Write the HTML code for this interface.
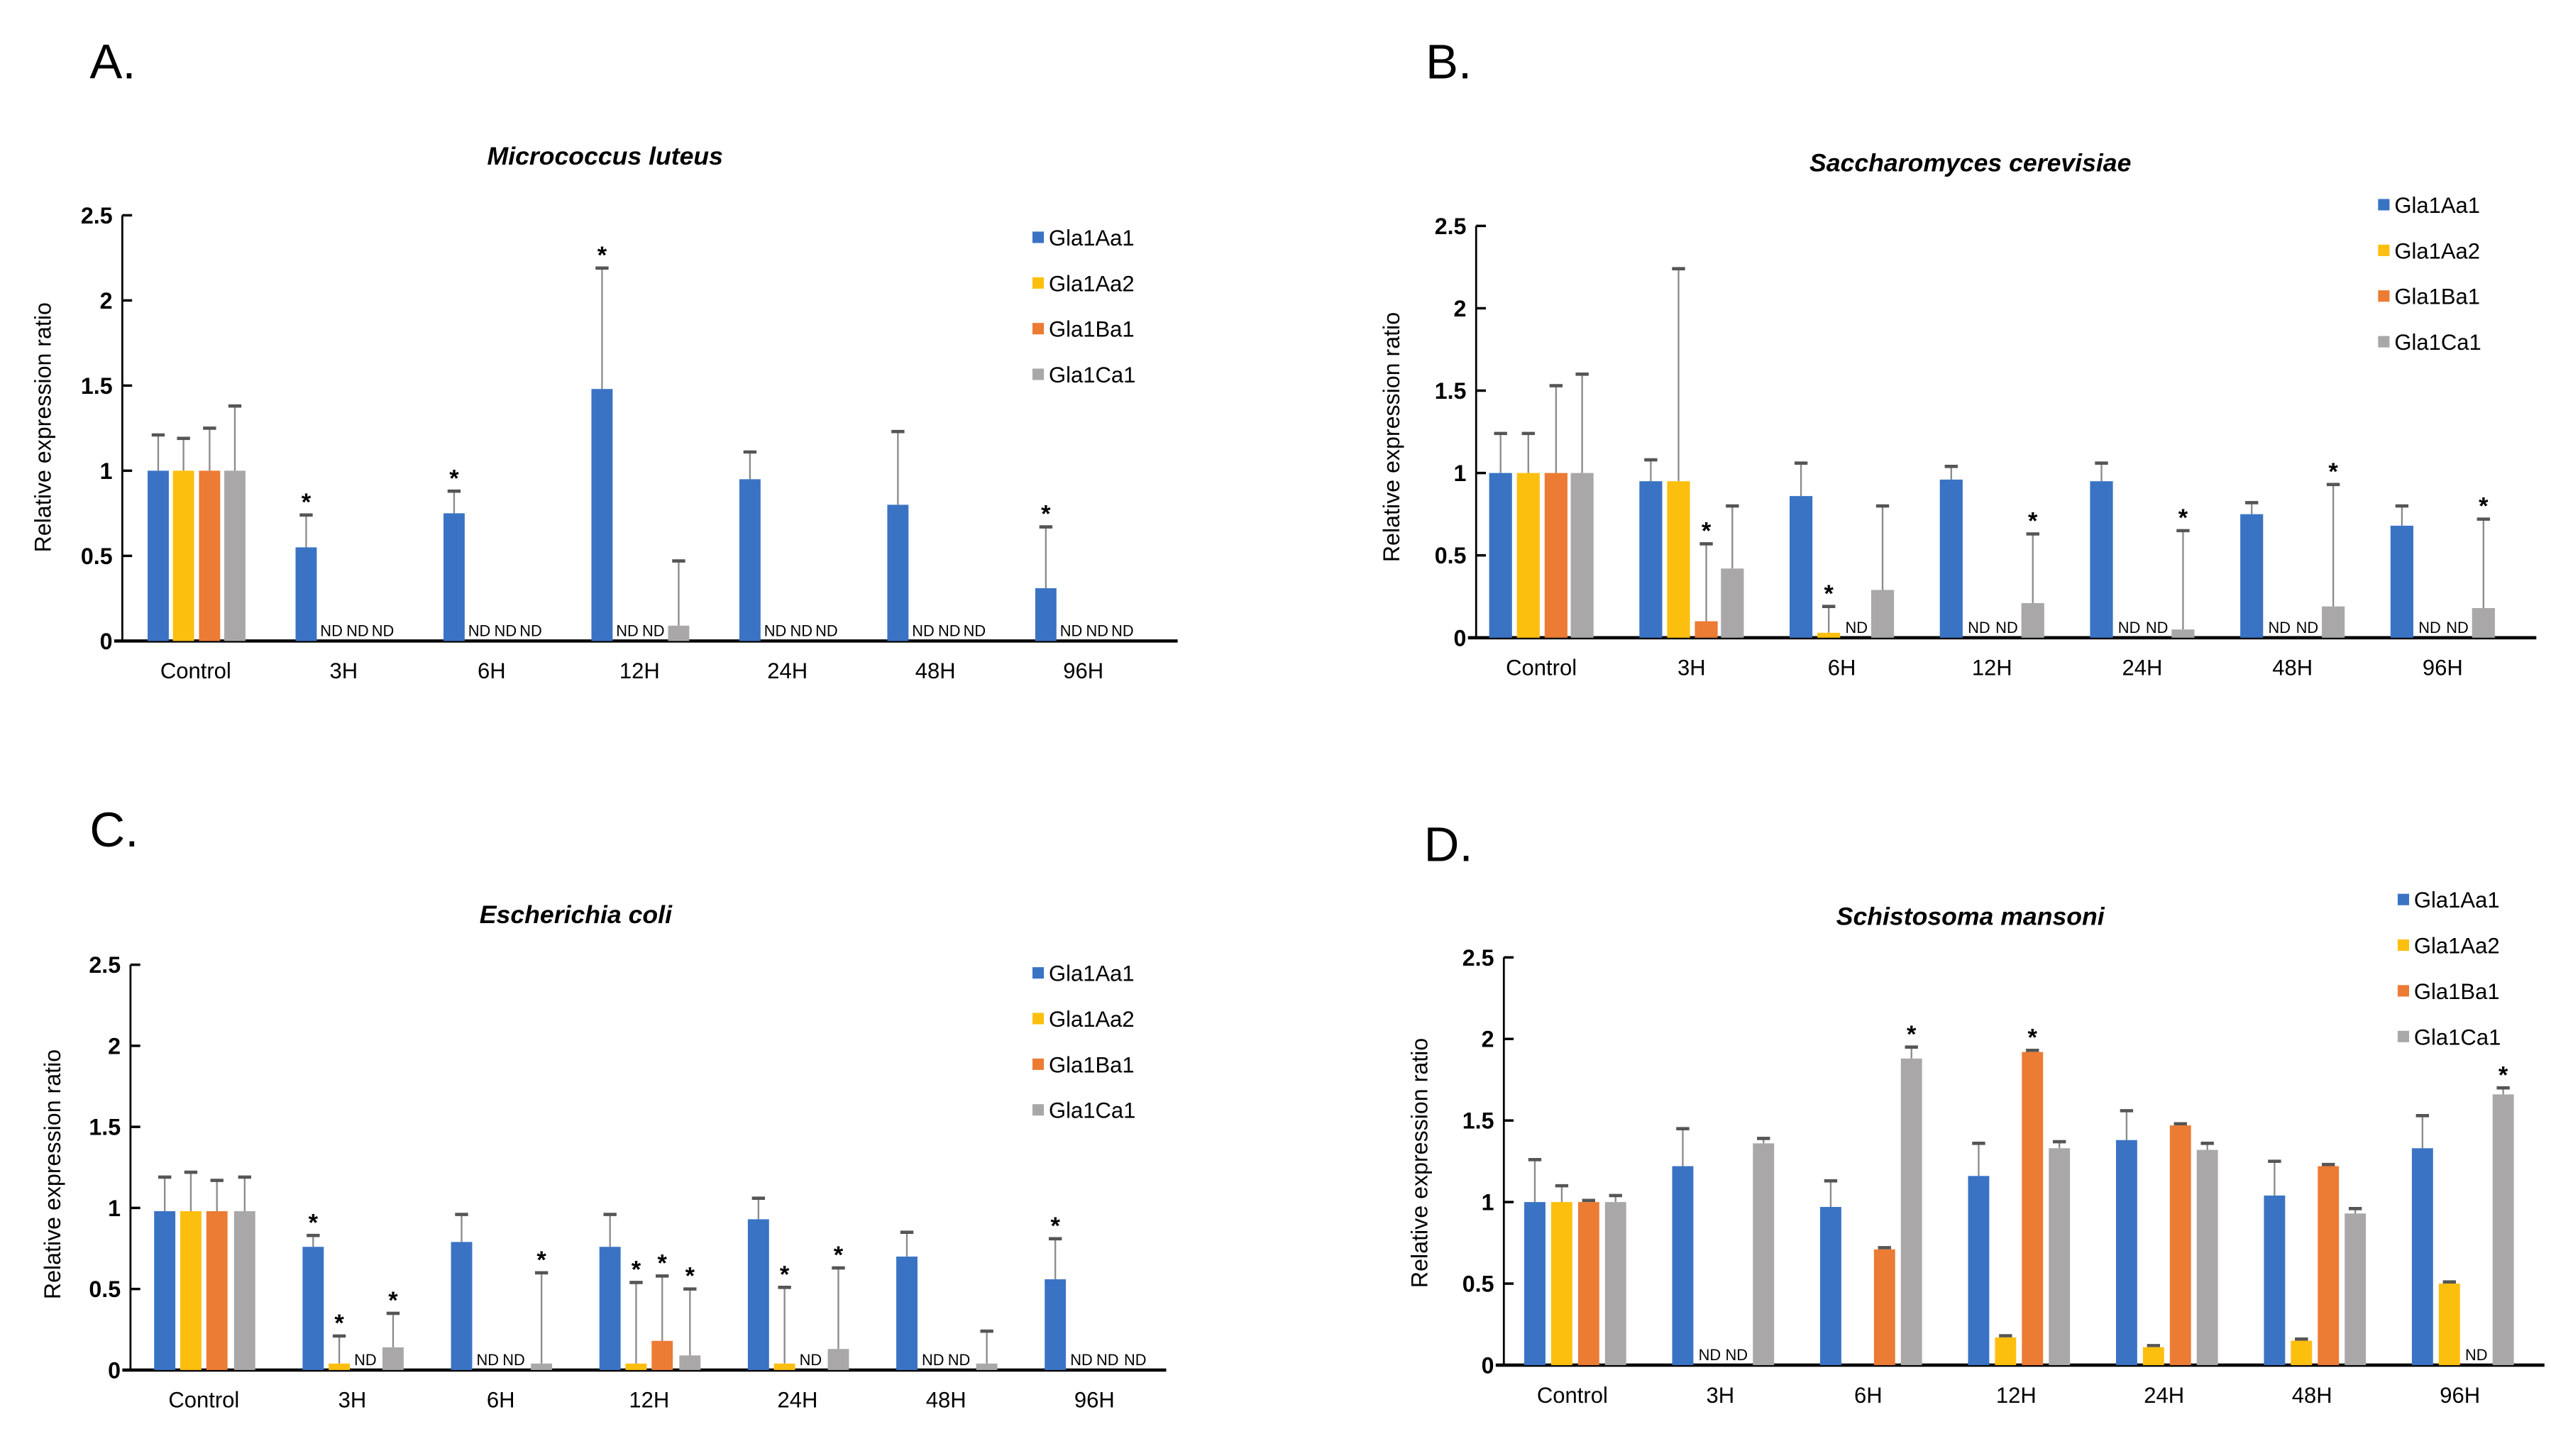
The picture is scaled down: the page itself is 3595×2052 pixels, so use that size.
<!DOCTYPE html>
<html><head><meta charset="utf-8"><style>
html,body{margin:0;padding:0;background:#fff;}
svg{display:block;font-family:"Liberation Sans",Arial,sans-serif;}
</style></head><body>
<svg id="fig" width="3595" height="2052" viewBox="0 0 1564 892.7" preserveAspectRatio="none" xmlns="http://www.w3.org/2000/svg"></svg>
<script>
const categories = ["Control","3H","6H","12H","24H","48H","96H"];
const seriesNames = ["Gla1Aa1","Gla1Aa2","Gla1Ba1","Gla1Ca1"];
const yTicks = [0,0.5,1,1.5,2,2.5];
const yTickLabels = ["0","0.5","1","1.5","2","2.5"];

// Panel A - Micrococcus luteus
const aAa1 = [1,0.55,0.75,1.48,0.95,0.8,0.31];
const aAa2 = [1,null,null,null,null,null,null];
const aBa1 = [1,null,null,null,null,null,null];
const aCa1 = [1,null,null,0.09,null,null,null];
const aErrAa1 = [1.21,0.74,0.88,2.19,1.11,1.23,0.67];
const aErrAa2 = [1.19,null,null,null,null,null,null];
const aErrBa1 = [1.25,null,null,null,null,null,null];
const aErrCa1 = [1.38,null,null,0.47,null,null,null];
const aStars = [[1,0],[2,0],[3,0],[6,0]];

// Panel B - Saccharomyces cerevisiae
const bAa1 = [1,0.95,0.86,0.96,0.95,0.75,0.68];
const bAa2 = [1,0.95,0.03,null,null,null,null];
const bBa1 = [1,0.1,null,null,null,null,null];
const bCa1 = [1,0.42,0.29,0.21,0.05,0.19,0.18];
const bErrAa1 = [1.24,1.08,1.06,1.04,1.06,0.82,0.8];
const bErrAa2 = [1.24,2.24,0.19,null,null,null,null];
const bErrBa1 = [1.53,0.57,null,null,null,null,null];
const bErrCa1 = [1.6,0.8,0.8,0.63,0.65,0.93,0.72];
const bStars = [[1,2],[2,1],[3,3],[4,3],[5,3],[6,3]];

// Panel C - Escherichia coli
const cAa1 = [0.98,0.76,0.79,0.76,0.93,0.7,0.56];
const cAa2 = [0.98,0.04,null,0.04,0.04,null,null];
const cBa1 = [0.98,null,null,0.18,null,null,null];
const cCa1 = [0.98,0.14,0.04,0.09,0.13,0.04,null];
const cErrAa1 = [1.19,0.83,0.96,0.96,1.06,0.85,0.81];
const cErrAa2 = [1.22,0.21,null,0.54,0.51,null,null];
const cErrBa1 = [1.17,null,null,0.58,null,null,null];
const cErrCa1 = [1.19,0.35,0.6,0.5,0.63,0.24,null];
const cStars = [[1,0],[1,1],[1,3],[2,3],[3,1],[3,2],[3,3],[4,1],[4,3],[6,0]];

// Panel D - Schistosoma mansoni
const dAa1 = [1,1.22,0.97,1.16,1.38,1.04,1.33];
const dAa2 = [1,null,0,0.17,0.11,0.15,0.5];
const dBa1 = [1,null,0.71,1.92,1.47,1.22,null];
const dCa1 = [1,1.36,1.88,1.33,1.32,0.93,1.66];
const dErrAa1 = [1.26,1.45,1.13,1.36,1.56,1.25,1.53];
const dErrAa2 = [1.1,null,null,0.18,0.12,0.16,0.51];
const dErrBa1 = [1.01,null,0.72,1.93,1.48,1.23,null];
const dErrCa1 = [1.04,1.39,1.95,1.37,1.36,0.96,1.7];
const dStars = [[2,3],[3,2],[6,3]];

const colors = ["#3a73c4","#fdbf0e","#ec7b34","#a9a7a7"];
const NS = "http://www.w3.org/2000/svg";
const svg = document.getElementById("fig");
function mk(tag, attrs, parent, text){
  const e = document.createElementNS(NS, tag);
  for (const k in attrs) e.setAttribute(k, attrs[k]);
  if (text !== undefined) e.textContent = text;
  (parent||svg).appendChild(e);
  return e;
}

function panel(p){
  const g = mk("g", {});
  
  
  const y = v => p.y0 - v * p.unit;
  const x = (ci, si) => p.c0 + ci * p.step + p.offs[si];
  const L = mk("text", {x:p.letter[0], y:p.letter[1], "font-size":30, fill:"#000"}, g, p.letterText);
  
  
  const T = mk("text", {x:p.title[0], y:p.title[1], "font-size":15.5, "font-weight":"bold", "font-style":"italic", "text-anchor":"middle"}, g, p.titleText);
  
  
  const YL = mk("text", {x:0, y:0, "font-size":14, "text-anchor":"middle", transform:`translate(${p.ylab[0]},${p.ylab[1]}) rotate(-90)`}, g, "Relative expression ratio");
  
  
  const ya = mk("line", {x1:p.ax, y1:y(2.5), x2:p.ax, y2:p.y0, stroke:"#000", "stroke-width":1.2}, g);
  
  
  yTicks.forEach((t,i)=>{
    const tk = mk("line", {x1:p.ax, y1:y(t), x2:p.ax+6, y2:y(t), stroke:"#000", "stroke-width":1.5}, g);
    
    
    const tl = mk("text", {x:p.ax-6, y:y(t)+5, "font-size":14, "font-weight":"bold", "text-anchor":"end"}, g, yTickLabels[i]);
    
    
  });
  const xa = mk("line", {x1:p.ax-5, y1:p.y0, x2:p.xend, y2:p.y0, stroke:"#000", "stroke-width":2}, g);
  
  
  categories.forEach((c,ci)=>{
    const t = mk("text", {x:p.c0+ci*p.step, y:p.y0+23, "font-size":13.5, "text-anchor":"middle"}, g, c);
    
    
  });
  p.vals.forEach((arr,si)=>{
    arr.forEach((v,ci)=>{
      const bx = x(ci,si) - p.bw/2;
      if (v === null){
        const nd = mk("text", {x:x(ci,si), y:p.y0-3, "font-size":9.5, "text-anchor":"middle"}, g, "ND");
        
        
        return;
      }
      const e = p.errs[si][ci];
      if (e !== null){
        const el = mk("line", {x1:x(ci,si), y1:y(e), x2:x(ci,si), y2:y(v), stroke:"#8a8a8a", "stroke-width":1}, g);
        
        
        const cap = mk("line", {x1:x(ci,si)-4, y1:y(e), x2:x(ci,si)+4, y2:y(e), stroke:"#555", "stroke-width":2}, g);
        
        
      }
      if (v > 0){
        const r = mk("rect", {x:bx, y:y(v), width:p.bw, height:v*p.unit, fill:colors[si]}, g);
        
        
      }
    });
  });
  p.stars.forEach(([ci,si])=>{
    const e = p.errs[si][ci];
    const top = e !== null ? e : p.vals[si][ci];
    const s = mk("text", {x:x(ci,si), y:y(top)-3, "font-size":15, "font-weight":"bold", "text-anchor":"middle"}, g, "*");
    
    
  });
  seriesNames.forEach((n,si)=>{
    const ly = p.leg[1] + si*28;
    const sq = mk("rect", {x:p.leg[0], y:ly-4, width:7, height:7, fill:colors[si]}, g);
    
    
    const lt = mk("text", {x:p.leg[0]+10, y:ly+4.5, "font-size":13.5}, g, n);
    
    
  });
}

panel({key:"panel-a", letterText:"A.", letter:[55,48], titleText:"Micrococcus luteus", title:[371,101],
  ylab:[31,262], ax:75, y0:393, unit:104.4, xend:722, c0:120, step:90.7, offs:[-23,-7.5,8.5,24], bw:13,
  vals:[aAa1,aAa2,aBa1,aCa1], errs:[aErrAa1,aErrAa2,aErrBa1,aErrCa1], stars:aStars, leg:[633,146]});
panel({key:"panel-b", letterText:"B.", letter:[874,48], titleText:"Saccharomyces cerevisiae", title:[1208,105],
  ylab:[858,268], ax:905, y0:391, unit:101, xend:1555, c0:945, step:92.1, offs:[-25,-8,9,25], bw:14,
  vals:[bAa1,bAa2,bBa1,bCa1], errs:[bErrAa1,bErrAa2,bErrBa1,bErrCa1], stars:bStars, leg:[1458,126]});
panel({key:"panel-c", letterText:"C.", letter:[55,519], titleText:"Escherichia coli", title:[353,566],
  ylab:[37,720], ax:80, y0:840, unit:99.4, xend:715, c0:125, step:91, offs:[-24,-8,8,25], bw:13,
  vals:[cAa1,cAa2,cBa1,cCa1], errs:[cErrAa1,cErrAa2,cErrBa1,cErrCa1], stars:cStars, leg:[633,597]});
panel({key:"panel-d", letterText:"D.", letter:[873,528], titleText:"Schistosoma mansoni", title:[1208,567],
  ylab:[875,713], ax:922, y0:837, unit:100, xend:1560, c0:964, step:90.7, offs:[-23,-6.5,10,26.5], bw:13,
  vals:[dAa1,dAa2,dBa1,dCa1], errs:[dErrAa1,dErrAa2,dErrBa1,dErrCa1], stars:dStars, leg:[1470,552]});
</script>
</body></html>
